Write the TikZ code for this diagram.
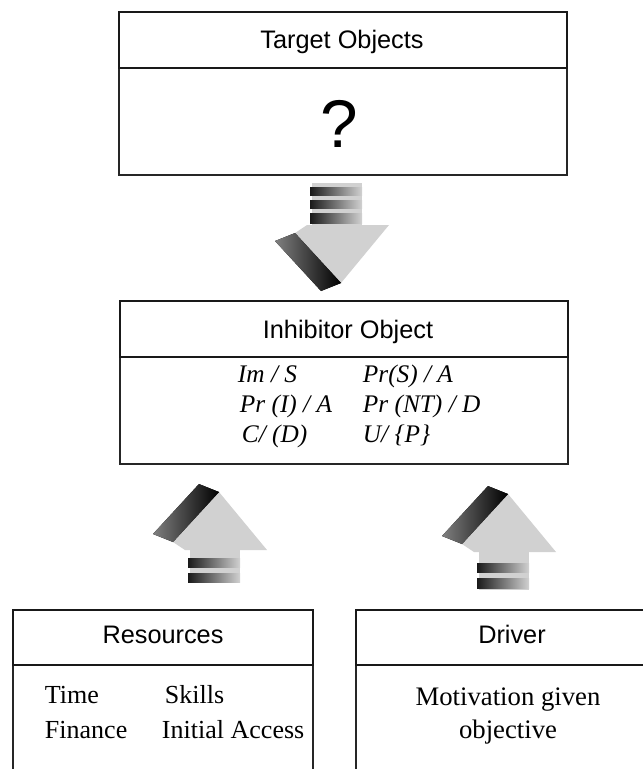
\documentclass[tikz,border=0pt]{standalone}
\usepackage{fontspec}
\setmainfont{Liberation Serif}
\newfontfamily\headfont{Liberation Sans}

\tikzset{
  boxline/.style={draw=black!85, line width=1.1pt},
  headline/.style={draw=black!90, line width=1.7pt},
  headtext/.style={font=\headfont\fontsize{18}{22}\selectfont, anchor=base},
  itemtext/.style={font=\fontsize{18.5}{22}\selectfont, anchor=base west},
  formula/.style={font=\itshape\fontsize{18}{22}\selectfont, anchor=base west},
  lightface/.style={fill=black!18},
  darkface/.style={left color=black!50, right color=black},
  plate/.style={left color=black!90, middle color=black!45, right color=black!18},
}

% block arrow: position, direction (1 down, -1 up), stem length, plates
\newcommand{\blockarrow}[4]{%
  \begin{scope}[shift={#1}, yscale=#2]
    \fill[lightface] (-25,0) rectangle (25,-#3);
    \foreach \a/\b in {#4} \fill[plate] (-27,-\a) rectangle (25,-\b);
    \fill[lightface] (4,58) -- (52,0) -- (-30,0) -- (-42,8) -- cycle;
    \fill[darkface] (4,58) -- (-16,66) -- (-62,16) -- (-42,8) -- cycle;
  \end{scope}}

\begin{document}
\begin{tikzpicture}[x=0.025cm, y=-0.025cm]
\useasboundingbox (0,0) rectangle (643,769);

% target objects
\draw[boxline] (119,68) rectangle (567,175);
\draw[headline] (119,12) rectangle (567,68);
\node[headtext] (target) at (342,48) {Target Objects};
\node[font=\headfont\fontsize{48}{50}\selectfont, anchor=base] (unknown) at (339,147) {?};

% inhibitor object
\draw[boxline] (120,357) rectangle (568,464);
\draw[headline] (120,301) rectangle (568,357);
\node[headtext] (inhibitor) at (348,338) {Inhibitor Object};
\node[formula] (im) at (233,382) {Im / S};
\node[formula] (prs) at (358,382) {Pr(S) / A};
\node[formula] (pri) at (235,412) {Pr (I) / A};
\node[formula] (prnt) at (358,412) {Pr (NT) / D};
\node[formula] (cd) at (237,442) {C/ (D)};
\node[formula] (up) at (358,442) {U/ \{P\}};

% resources
\draw[boxline] (13,665) -- (13,769);
\draw[boxline] (313,665) -- (313,769);
\draw[headline] (13,610) rectangle (313,665);
\node[headtext] (resources) at (163,643) {Resources};
\node[itemtext] (time) at (40,703) {Time};
\node[itemtext] (skills) at (160,703) {Skills};
\node[itemtext] (finance) at (40,738) {Finance};
\node[itemtext] (access) at (157,738) {Initial Access};

% driver
\draw[boxline] (356,665) -- (356,769);
\draw[headline] (643,610) -- (356,610) -- (356,665) -- (643,665);
\node[headtext] (driver) at (512,643) {Driver};
\node[font=\fontsize{19}{23}\selectfont, align=center] (motive) at (508,716) {Motivation given\\objective};

% arrows
\blockarrow{(337,225)}{1}{42}{2/12,17/25,30/38}
\blockarrow{(215,550)}{-1}{32}{8/17,23/32}
\blockarrow{(504,552)}{-1}{38}{11/20,26/36}
\end{tikzpicture}
\end{document}
